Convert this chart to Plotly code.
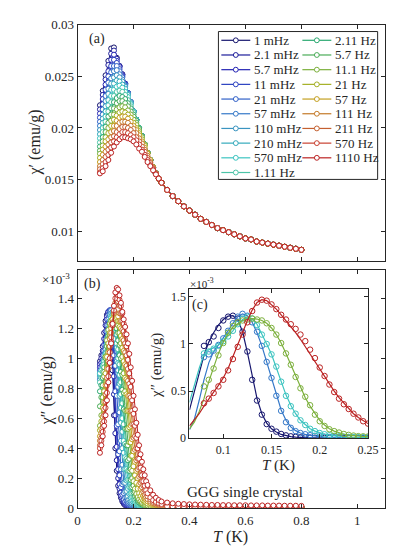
import plotly.graph_objects as go

W, H = 398, 553
FONT = "Liberation Serif"
INK = "#262626"

freqs = ["1 mHz", "2.1 mHz", "5.7 mHz", "11 mHz", "21 mHz", "57 mHz", "110 mHz",
         "210 mHz", "570 mHz", "1.11 Hz", "2.11 Hz", "5.7 Hz", "11.1 Hz", "21 Hz",
         "57 Hz", "111 Hz", "211 Hz", "570 Hz", "1110 Hz"]
colors = ["#16166e", "#1c1c9a", "#2424b4", "#2a40c0", "#3060c8", "#3478c8", "#3a94c0",
          "#34aabc", "#3cc4c0", "#4cc4a8", "#2aa870", "#4aac58", "#7cb03c", "#a4b024",
          "#c4a020", "#c47a28", "#c46030", "#c84030", "#bb2222"]

# ---- panel (a): chi' (emu/g) ----
T_a = [0.08, 0.09, 0.10, 0.11, 0.12, 0.13, 0.14, 0.15, 0.16, 0.17, 0.18, 0.19,
       0.20, 0.21, 0.22, 0.23, 0.24, 0.25, 0.26, 0.27, 0.28, 0.29, 0.30]
T_a_tail = [0.32, 0.34, 0.36, 0.38, 0.40, 0.42, 0.44, 0.46, 0.48, 0.50, 0.52, 0.54,
            0.56, 0.58, 0.60, 0.62, 0.64, 0.66, 0.68, 0.70, 0.72, 0.74, 0.76, 0.78, 0.80]
chi1_tail = [0.0140, 0.0134, 0.0129, 0.0124, 0.0120, 0.0116, 0.0112, 0.0109, 0.0106, 0.0103,
             0.0101, 0.0099, 0.0097, 0.0095, 0.0093, 0.0092, 0.0090, 0.0089, 0.0088, 0.0087,
             0.0086, 0.0085, 0.0084, 0.0083, 0.0082]

chi1_01 = [0.0222, 0.0236, 0.0251, 0.0265, 0.0277, 0.0278, 0.0268, 0.0260, 0.0252, 0.0243, 0.0234, 0.0225, 0.0216, 0.0208, 0.0200, 0.0192, 0.0184, 0.0176, 0.0169, 0.0162, 0.0156, 0.0151, 0.0147]
chi1_02 = [0.0218, 0.0232, 0.0247, 0.0261, 0.0272, 0.0275, 0.0267, 0.0260, 0.0252, 0.0243, 0.0234, 0.0225, 0.0216, 0.0208, 0.0200, 0.0192, 0.0184, 0.0176, 0.0169, 0.0162, 0.0156, 0.0151, 0.0147]
chi1_03 = [0.0214, 0.0228, 0.0242, 0.0255, 0.0266, 0.0271, 0.0265, 0.0259, 0.0251, 0.0243, 0.0234, 0.0225, 0.0216, 0.0208, 0.0200, 0.0192, 0.0184, 0.0176, 0.0169, 0.0162, 0.0156, 0.0151, 0.0147]
chi1_04 = [0.0210, 0.0223, 0.0237, 0.0250, 0.0260, 0.0266, 0.0263, 0.0257, 0.0250, 0.0242, 0.0234, 0.0225, 0.0216, 0.0208, 0.0200, 0.0192, 0.0184, 0.0176, 0.0169, 0.0162, 0.0156, 0.0151, 0.0147]
chi1_05 = [0.0206, 0.0218, 0.0231, 0.0244, 0.0254, 0.0260, 0.0260, 0.0255, 0.0249, 0.0242, 0.0234, 0.0225, 0.0216, 0.0208, 0.0200, 0.0192, 0.0184, 0.0176, 0.0169, 0.0162, 0.0156, 0.0151, 0.0147]
chi1_06 = [0.0202, 0.0213, 0.0226, 0.0238, 0.0248, 0.0255, 0.0256, 0.0252, 0.0247, 0.0241, 0.0233, 0.0225, 0.0216, 0.0208, 0.0200, 0.0192, 0.0184, 0.0176, 0.0169, 0.0162, 0.0156, 0.0151, 0.0147]
chi1_07 = [0.0198, 0.0209, 0.0221, 0.0233, 0.0243, 0.0249, 0.0251, 0.0249, 0.0245, 0.0240, 0.0233, 0.0225, 0.0216, 0.0208, 0.0200, 0.0192, 0.0184, 0.0176, 0.0169, 0.0162, 0.0156, 0.0151, 0.0147]
chi1_08 = [0.0194, 0.0205, 0.0216, 0.0227, 0.0237, 0.0243, 0.0246, 0.0245, 0.0242, 0.0238, 0.0232, 0.0224, 0.0216, 0.0208, 0.0200, 0.0192, 0.0184, 0.0176, 0.0169, 0.0162, 0.0156, 0.0151, 0.0147]
chi1_09 = [0.0190, 0.0200, 0.0211, 0.0222, 0.0231, 0.0237, 0.0240, 0.0241, 0.0239, 0.0235, 0.0230, 0.0223, 0.0216, 0.0208, 0.0200, 0.0192, 0.0184, 0.0176, 0.0169, 0.0162, 0.0156, 0.0151, 0.0147]
chi1_10 = [0.0186, 0.0196, 0.0206, 0.0216, 0.0225, 0.0231, 0.0235, 0.0236, 0.0235, 0.0232, 0.0227, 0.0221, 0.0215, 0.0208, 0.0200, 0.0192, 0.0184, 0.0176, 0.0169, 0.0162, 0.0156, 0.0151, 0.0147]
chi1_11 = [0.0182, 0.0191, 0.0201, 0.0211, 0.0219, 0.0225, 0.0229, 0.0231, 0.0230, 0.0228, 0.0224, 0.0219, 0.0213, 0.0207, 0.0200, 0.0192, 0.0184, 0.0176, 0.0169, 0.0162, 0.0156, 0.0151, 0.0147]
chi1_12 = [0.0178, 0.0187, 0.0196, 0.0205, 0.0213, 0.0219, 0.0224, 0.0226, 0.0226, 0.0224, 0.0221, 0.0216, 0.0211, 0.0205, 0.0199, 0.0192, 0.0184, 0.0176, 0.0169, 0.0162, 0.0156, 0.0151, 0.0147]
chi1_13 = [0.0175, 0.0183, 0.0191, 0.0200, 0.0207, 0.0213, 0.0218, 0.0220, 0.0221, 0.0220, 0.0217, 0.0213, 0.0208, 0.0203, 0.0197, 0.0191, 0.0184, 0.0176, 0.0169, 0.0162, 0.0156, 0.0151, 0.0147]
chi1_14 = [0.0171, 0.0179, 0.0187, 0.0195, 0.0202, 0.0208, 0.0212, 0.0215, 0.0216, 0.0215, 0.0213, 0.0210, 0.0205, 0.0200, 0.0195, 0.0189, 0.0183, 0.0176, 0.0169, 0.0162, 0.0156, 0.0151, 0.0147]
chi1_15 = [0.0167, 0.0174, 0.0182, 0.0189, 0.0196, 0.0202, 0.0207, 0.0210, 0.0211, 0.0211, 0.0209, 0.0206, 0.0202, 0.0198, 0.0193, 0.0187, 0.0181, 0.0175, 0.0169, 0.0162, 0.0156, 0.0151, 0.0147]
chi1_16 = [0.0163, 0.0169, 0.0177, 0.0184, 0.0191, 0.0197, 0.0202, 0.0205, 0.0206, 0.0206, 0.0205, 0.0202, 0.0199, 0.0195, 0.0190, 0.0185, 0.0179, 0.0173, 0.0167, 0.0162, 0.0156, 0.0151, 0.0147]
chi1_17 = [0.0160, 0.0165, 0.0172, 0.0179, 0.0186, 0.0192, 0.0196, 0.0199, 0.0201, 0.0201, 0.0200, 0.0198, 0.0195, 0.0191, 0.0187, 0.0182, 0.0177, 0.0171, 0.0166, 0.0161, 0.0156, 0.0151, 0.0147]
chi1_18 = [0.0157, 0.0161, 0.0167, 0.0174, 0.0181, 0.0187, 0.0191, 0.0194, 0.0196, 0.0196, 0.0195, 0.0193, 0.0191, 0.0188, 0.0184, 0.0179, 0.0174, 0.0169, 0.0164, 0.0160, 0.0155, 0.0151, 0.0147]
chi1_19 = [0.0156, 0.0158, 0.0163, 0.0169, 0.0176, 0.0182, 0.0186, 0.0189, 0.0191, 0.0191, 0.0190, 0.0189, 0.0187, 0.0184, 0.0180, 0.0177, 0.0172, 0.0167, 0.0163, 0.0159, 0.0155, 0.0151, 0.0147]

# ---- panel (b): chi'' (x1e-3 emu/g) ----
T_b = [0.080, 0.085, 0.090, 0.095, 0.100, 0.105, 0.110, 0.115, 0.120, 0.125,
       0.130, 0.135, 0.140, 0.145, 0.150, 0.155, 0.160, 0.165, 0.170, 0.175,
       0.180, 0.185, 0.190, 0.195, 0.200, 0.205, 0.210, 0.215, 0.220, 0.225,
       0.230, 0.235, 0.240, 0.245, 0.250, 0.26, 0.27, 0.28, 0.29, 0.30]
T_b_tail = T_a_tail
chi2_tail = [0.012, 0.011, 0.011, 0.010, 0.010, 0.010, 0.009, 0.009, 0.009, 0.009, 0.008, 0.008,
             0.008, 0.008, 0.008, 0.007, 0.007, 0.007, 0.007, 0.007, 0.006, 0.006, 0.006, 0.006, 0.006]
chi2_tail_red = [0.038, 0.033, 0.030, 0.028, 0.026, 0.025, 0.024, 0.023, 0.022, 0.022, 0.021, 0.021,
                 0.020, 0.020, 0.020, 0.019, 0.019, 0.019, 0.018, 0.018, 0.018, 0.017, 0.017, 0.017, 0.016]

chi2_01 = [0.98, 1.02, 1.08, 1.17, 1.25, 1.29, 1.30, 1.27, 1.13, 0.92, 0.62, 0.40, 0.25, 0.15, 0.10, 0.07, 0.045, 0.03, 0.02, 0.015, 0.01, 0.008, 0.006, 0.005, 0.004, 0.004, 0.003, 0.003, 0.003, 0.002, 0.002, 0.002, 0.002, 0.002, 0.002, 0.001, 0.001, 0.001, 0.001, 0.001]
chi2_02 = [0.96, 1.00, 1.05, 1.13, 1.22, 1.28, 1.31, 1.30, 1.20, 1.02, 0.76, 0.50, 0.32, 0.20, 0.13, 0.085, 0.055, 0.038, 0.027, 0.019, 0.014, 0.011, 0.009, 0.007, 0.006, 0.005, 0.004, 0.004, 0.003, 0.003, 0.003, 0.002, 0.002, 0.002, 0.002, 0.002, 0.001, 0.001, 0.001, 0.001]
chi2_03 = [0.94, 0.97, 1.02, 1.09, 1.18, 1.26, 1.31, 1.32, 1.26, 1.11, 0.88, 0.62, 0.41, 0.26, 0.16, 0.105, 0.07, 0.048, 0.034, 0.025, 0.019, 0.015, 0.012, 0.009, 0.008, 0.006, 0.005, 0.005, 0.004, 0.004, 0.003, 0.003, 0.003, 0.002, 0.002, 0.002, 0.002, 0.001, 0.001, 0.001]
chi2_04 = [0.92, 0.94, 0.99, 1.05, 1.13, 1.22, 1.29, 1.32, 1.30, 1.20, 1.02, 0.78, 0.55, 0.36, 0.22, 0.14, 0.09, 0.06, 0.043, 0.032, 0.024, 0.018, 0.014, 0.011, 0.009, 0.007, 0.006, 0.005, 0.005, 0.004, 0.004, 0.003, 0.003, 0.003, 0.002, 0.002, 0.002, 0.002, 0.001, 0.001]
chi2_05 = [0.90, 0.92, 0.96, 1.02, 1.09, 1.18, 1.26, 1.31, 1.32, 1.26, 1.13, 0.95, 0.75, 0.56, 0.38, 0.26, 0.16, 0.10, 0.07, 0.05, 0.036, 0.028, 0.021, 0.017, 0.013, 0.011, 0.009, 0.007, 0.006, 0.005, 0.005, 0.004, 0.004, 0.003, 0.003, 0.003, 0.002, 0.002, 0.002, 0.002]
chi2_06 = [0.86, 0.89, 0.93, 0.99, 1.06, 1.14, 1.22, 1.29, 1.32, 1.30, 1.23, 1.13, 0.98, 0.81, 0.64, 0.45, 0.29, 0.17, 0.11, 0.075, 0.055, 0.042, 0.032, 0.025, 0.02, 0.016, 0.013, 0.011, 0.009, 0.008, 0.007, 0.006, 0.005, 0.005, 0.004, 0.004, 0.003, 0.003, 0.002, 0.002]
chi2_07 = [0.88, 0.90, 0.93, 0.98, 1.04, 1.11, 1.18, 1.25, 1.30, 1.31, 1.27, 1.19, 1.07, 0.92, 0.75, 0.57, 0.40, 0.26, 0.17, 0.115, 0.08, 0.058, 0.044, 0.034, 0.027, 0.022, 0.018, 0.015, 0.012, 0.01, 0.009, 0.008, 0.007, 0.006, 0.005, 0.004, 0.004, 0.003, 0.003, 0.002]
chi2_08 = [0.89, 0.91, 0.94, 0.98, 1.03, 1.09, 1.16, 1.23, 1.28, 1.30, 1.28, 1.21, 1.10, 0.97, 0.83, 0.67, 0.51, 0.37, 0.26, 0.185, 0.13, 0.095, 0.07, 0.052, 0.04, 0.031, 0.025, 0.02, 0.016, 0.013, 0.011, 0.009, 0.008, 0.007, 0.006, 0.005, 0.004, 0.004, 0.003, 0.003]
chi2_09 = [0.90, 0.92, 0.95, 0.98, 1.03, 1.08, 1.14, 1.21, 1.27, 1.29, 1.27, 1.20, 1.10, 1.00, 0.89, 0.76, 0.60, 0.45, 0.34, 0.26, 0.19, 0.14, 0.10, 0.075, 0.055, 0.042, 0.032, 0.025, 0.02, 0.017, 0.014, 0.012, 0.01, 0.009, 0.008, 0.007, 0.006, 0.005, 0.005, 0.004]
chi2_10 = [0.84, 0.87, 0.91, 0.96, 1.02, 1.08, 1.14, 1.20, 1.25, 1.28, 1.28, 1.24, 1.16, 1.06, 0.96, 0.84, 0.70, 0.56, 0.43, 0.33, 0.25, 0.19, 0.14, 0.10, 0.075, 0.058, 0.045, 0.035, 0.028, 0.023, 0.019, 0.016, 0.013, 0.011, 0.01, 0.008, 0.007, 0.006, 0.005, 0.005]
chi2_11 = [0.78, 0.82, 0.87, 0.94, 1.01, 1.08, 1.14, 1.19, 1.24, 1.26, 1.27, 1.25, 1.20, 1.12, 1.02, 0.91, 0.79, 0.66, 0.53, 0.42, 0.32, 0.25, 0.19, 0.14, 0.105, 0.08, 0.062, 0.048, 0.038, 0.03, 0.025, 0.02, 0.017, 0.014, 0.012, 0.01, 0.008, 0.007, 0.006, 0.005]
chi2_12 = [0.68, 0.74, 0.82, 0.91, 1.00, 1.08, 1.15, 1.20, 1.24, 1.26, 1.27, 1.26, 1.23, 1.17, 1.09, 1.00, 0.89, 0.77, 0.65, 0.53, 0.42, 0.33, 0.26, 0.20, 0.15, 0.11, 0.085, 0.066, 0.052, 0.041, 0.033, 0.027, 0.022, 0.019, 0.016, 0.012, 0.01, 0.008, 0.007, 0.006]
chi2_13 = [0.55, 0.62, 0.74, 0.88, 1.01, 1.12, 1.19, 1.23, 1.25, 1.26, 1.27, 1.26, 1.25, 1.22, 1.17, 1.10, 1.01, 0.90, 0.78, 0.65, 0.53, 0.44, 0.35, 0.25, 0.18, 0.13, 0.095, 0.075, 0.06, 0.045, 0.035, 0.028, 0.022, 0.02, 0.018, 0.015, 0.013, 0.012, 0.011, 0.01]
chi2_14 = [0.52, 0.58, 0.67, 0.78, 0.90, 1.01, 1.10, 1.17, 1.22, 1.26, 1.28, 1.28, 1.27, 1.25, 1.21, 1.15, 1.07, 0.98, 0.87, 0.76, 0.65, 0.54, 0.44, 0.35, 0.28, 0.22, 0.17, 0.13, 0.10, 0.08, 0.065, 0.053, 0.044, 0.037, 0.031, 0.024, 0.019, 0.016, 0.014, 0.012]
chi2_15 = [0.48, 0.53, 0.61, 0.71, 0.82, 0.93, 1.04, 1.13, 1.20, 1.26, 1.30, 1.31, 1.30, 1.28, 1.25, 1.20, 1.13, 1.05, 0.96, 0.86, 0.75, 0.65, 0.55, 0.46, 0.38, 0.31, 0.25, 0.20, 0.16, 0.13, 0.10, 0.083, 0.068, 0.056, 0.047, 0.034, 0.026, 0.021, 0.018, 0.015]
chi2_16 = [0.45, 0.50, 0.57, 0.66, 0.76, 0.87, 0.98, 1.08, 1.17, 1.24, 1.30, 1.34, 1.35, 1.33, 1.30, 1.25, 1.19, 1.12, 1.04, 0.95, 0.85, 0.75, 0.65, 0.56, 0.47, 0.39, 0.32, 0.26, 0.21, 0.17, 0.14, 0.11, 0.09, 0.074, 0.061, 0.044, 0.033, 0.026, 0.021, 0.018]
chi2_17 = [0.42, 0.47, 0.54, 0.62, 0.71, 0.82, 0.93, 1.04, 1.14, 1.23, 1.31, 1.37, 1.39, 1.38, 1.35, 1.30, 1.25, 1.18, 1.10, 1.02, 0.93, 0.83, 0.74, 0.65, 0.56, 0.48, 0.40, 0.33, 0.27, 0.22, 0.18, 0.15, 0.12, 0.10, 0.08, 0.058, 0.043, 0.034, 0.027, 0.022]
chi2_18 = [0.40, 0.45, 0.51, 0.58, 0.67, 0.77, 0.88, 1.00, 1.11, 1.22, 1.32, 1.40, 1.43, 1.42, 1.39, 1.35, 1.30, 1.23, 1.16, 1.08, 0.99, 0.90, 0.81, 0.72, 0.63, 0.55, 0.47, 0.40, 0.33, 0.27, 0.22, 0.18, 0.15, 0.12, 0.10, 0.072, 0.054, 0.042, 0.034, 0.028]
chi2_19 = [0.37, 0.42, 0.48, 0.55, 0.62, 0.72, 0.84, 0.97, 1.10, 1.23, 1.35, 1.44, 1.47, 1.46, 1.42, 1.37, 1.31, 1.26, 1.21, 1.16, 1.10, 1.03, 0.94, 0.85, 0.75, 0.66, 0.57, 0.49, 0.42, 0.36, 0.31, 0.26, 0.22, 0.18, 0.155, 0.12, 0.09, 0.07, 0.055, 0.045]

# ---- inset (c): fitted curves for 1 mHz, 57 mHz, 570 mHz, 11.1 Hz, 1110 Hz ----
inset_ids = [0, 5, 8, 12, 18]
T_fit = [0.065, 0.070, 0.075, 0.080, 0.085, 0.090, 0.095, 0.100, 0.105, 0.110,
         0.115, 0.120, 0.125, 0.130, 0.135, 0.140, 0.145, 0.150, 0.155, 0.160,
         0.165, 0.170, 0.175, 0.180, 0.185, 0.190, 0.195, 0.200, 0.205, 0.210,
         0.215, 0.220, 0.225, 0.230, 0.235, 0.240, 0.245, 0.250]
fit_1mHz = [0.30, 0.50, 0.70, 0.88, 1.02, 1.12, 1.20, 1.26, 1.295, 1.30, 1.26, 1.13, 0.91, 0.65, 0.42, 0.26, 0.16, 0.10, 0.065, 0.04, 0.026, 0.017, 0.011, 0.007, 0.005, 0.004, 0.003, 0.002, 0.002, 0.001, 0.001, 0.001, 0.001, 0.0, 0.0, 0.0, 0.0, 0.0]
fit_57mHz = [0.09, 0.20, 0.40, 0.62, 0.80, 0.92, 0.99, 1.06, 1.14, 1.22, 1.29, 1.32, 1.30, 1.23, 1.12, 0.98, 0.81, 0.63, 0.45, 0.30, 0.19, 0.12, 0.08, 0.055, 0.04, 0.03, 0.022, 0.017, 0.013, 0.01, 0.008, 0.006, 0.005, 0.004, 0.003, 0.003, 0.002, 0.002]
fit_570mHz = [0.38, 0.56, 0.74, 0.89, 0.94, 0.96, 0.99, 1.03, 1.08, 1.14, 1.21, 1.26, 1.28, 1.27, 1.21, 1.11, 1.00, 0.89, 0.75, 0.60, 0.46, 0.35, 0.26, 0.19, 0.14, 0.10, 0.075, 0.056, 0.042, 0.032, 0.025, 0.02, 0.016, 0.013, 0.011, 0.009, 0.008, 0.007]
fit_11Hz = [0.10, 0.17, 0.28, 0.42, 0.60, 0.76, 0.90, 1.02, 1.11, 1.18, 1.22, 1.25, 1.265, 1.27, 1.265, 1.25, 1.22, 1.17, 1.10, 1.01, 0.90, 0.78, 0.66, 0.54, 0.43, 0.34, 0.26, 0.19, 0.14, 0.10, 0.075, 0.055, 0.042, 0.033, 0.026, 0.021, 0.018, 0.016]
fit_1110Hz = [0.13, 0.19, 0.26, 0.34, 0.42, 0.49, 0.56, 0.64, 0.74, 0.86, 0.99, 1.12, 1.25, 1.36, 1.44, 1.47, 1.46, 1.42, 1.37, 1.31, 1.25, 1.19, 1.12, 1.05, 0.97, 0.89, 0.81, 0.73, 0.65, 0.57, 0.50, 0.43, 0.37, 0.31, 0.26, 0.22, 0.185, 0.155]

chi1_all = [chi1_01, chi1_02, chi1_03, chi1_04, chi1_05, chi1_06, chi1_07, chi1_08, chi1_09, chi1_10,
            chi1_11, chi1_12, chi1_13, chi1_14, chi1_15, chi1_16, chi1_17, chi1_18, chi1_19]
chi2_all = [chi2_01, chi2_02, chi2_03, chi2_04, chi2_05, chi2_06, chi2_07, chi2_08, chi2_09, chi2_10,
            chi2_11, chi2_12, chi2_13, chi2_14, chi2_15, chi2_16, chi2_17, chi2_18, chi2_19]
fits = [fit_1mHz, fit_57mHz, fit_570mHz, fit_11Hz, fit_1110Hz]


def px(x, y):
    # pixel position -> paper coordinates
    return x / W, 1 - y / H


def mk(c):
    return dict(symbol="circle", size=5, color="white", line=dict(color=c, width=1))


fig = go.Figure()

for i in range(19):
    c = colors[i]
    fig.add_trace(go.Scatter(x=T_a + T_a_tail, y=chi1_all[i] + chi1_tail, mode="lines+markers",
                             line=dict(color=c, width=1), marker=mk(c), name=freqs[i],
                             showlegend=False, xaxis="x", yaxis="y"))

for i in range(19):
    c = colors[i]
    tail = chi2_tail_red if i == 18 else chi2_tail
    fig.add_trace(go.Scatter(x=T_b + T_b_tail, y=chi2_all[i] + tail, mode="lines+markers",
                             line=dict(color=c, width=1), marker=mk(c), name=freqs[i],
                             showlegend=False, xaxis="x2", yaxis="y2"))

for k, i in enumerate(inset_ids):
    c = colors[i]
    fig.add_trace(go.Scatter(x=T_b, y=chi2_all[i], mode="markers",
                             marker=dict(symbol="circle-open", size=5.5, color=c, line=dict(width=1)),
                             name=freqs[i], showlegend=False, xaxis="x3", yaxis="y3"))
    fig.add_trace(go.Scatter(x=T_fit, y=fits[k], mode="lines", line=dict(color=c, width=1.2),
                             name=freqs[i] + " fit", showlegend=False, xaxis="x3", yaxis="y3"))

axis_common = dict(showline=True, linecolor=INK, linewidth=1, mirror="ticks", ticks="inside",
                   ticklen=4, tickcolor=INK, showgrid=False, zeroline=False,
                   tickfont=dict(family=FONT, size=13, color=INK))

xa0, _ = px(69, 0)
xa1, _ = px(388, 0)
_, ya1 = px(0, 10)
_, ya0 = px(0, 253)
_, yb1 = px(0, 262)
_, yb0 = px(0, 507)
xc0, _ = px(185, 0)
xc1, _ = px(370, 0)
_, yc1 = px(0, 282)
_, yc0 = px(0, 435)

xt = [0, 0.2, 0.4, 0.6, 0.8, 1.0]
fig.update_layout(
    width=W, height=H, margin=dict(l=0, r=0, t=0, b=0),
    paper_bgcolor="white", plot_bgcolor="white", showlegend=False,
    font=dict(family=FONT, size=14, color=INK),
    xaxis=dict(axis_common, domain=[xa0, xa1], anchor="y", range=[0, 1.1], tickvals=xt,
               showticklabels=False),
    yaxis=dict(axis_common, domain=[ya0, ya1], anchor="x", range=[0.0071, 0.03],
               tickvals=[0.01, 0.015, 0.02, 0.025, 0.03],
               ticktext=["0.01", "0.015", "0.02", "0.025", "0.03"]),
    xaxis2=dict(axis_common, domain=[xa0, xa1], anchor="y2", range=[0, 1.1], tickvals=xt,
                ticktext=["0", "0.2", "0.4", "0.6", "0.8", "1"]),
    yaxis2=dict(axis_common, domain=[yb0, yb1], anchor="x2", range=[0, 1.59],
                tickvals=[0, 0.2, 0.4, 0.6, 0.8, 1.0, 1.2, 1.4],
                ticktext=["0", "0.2", "0.4", "0.6", "0.8", "1", "1.2", "1.4"]),
    xaxis3=dict(axis_common, domain=[xc0, xc1], anchor="y3", range=[0.065, 0.25],
                tickvals=[0.1, 0.15, 0.2, 0.25], ticktext=["0.1", "0.15", "0.2", "0.25"],
                tickfont=dict(family=FONT, size=12, color=INK)),
    yaxis3=dict(axis_common, domain=[yc0, yc1], anchor="x3", range=[0, 1.58],
                tickvals=[0, 0.5, 1.0, 1.5], ticktext=["0", "0.5", "1", "1.5"],
                tickfont=dict(family=FONT, size=12, color=INK)),
)

ann = []
shapes = []


def txt(x, y, s, size=14, xanchor="center", **kw):
    a, b = px(x, y)
    ann.append(dict(x=a, y=b, xref="paper", yref="paper", text=s, showarrow=False,
                    xanchor=xanchor, yanchor="middle", font=dict(family=FONT, size=size, color=INK), **kw))


# axis titles
txt(25, 131, "χ′ (emu/g)", 16, textangle=-90)
txt(37, 386, "χ″ (emu/g)", 16, textangle=-90)
txt(151, 360, "χ″ (emu/g)", 15, textangle=-90)
txt(228, 537, "<i>T</i> (K)", 16)
txt(277, 463, "<i>T</i> (K)", 15)

txt(89, 25, "(a)", 14)
txt(84, 276, "(b)", 14)
txt(196, 298, "(c)", 14)
txt(63, 271, "×10<sup>-3</sup>", 13, xanchor="right")
txt(183, 275, "×10<sup>-3</sup>", 11, xanchor="left")
ann.append(dict(x=0.6, y=0.11, xref="x2", yref="y2", text="GGG single crystal", showarrow=False,
                font=dict(family=FONT, size=15, color=INK)))

# legend drawn as a two-column box like the original
lx0, ly1 = px(215, 17)
lx1, ly0 = px(380, 169)
shapes.append(dict(type="rect", xref="paper", yref="paper", x0=lx0, x1=lx1, y0=ly0, y1=ly1,
                   line=dict(color=INK, width=1), fillcolor="white", layer="below"))
for i in range(19):
    col, row = (0, i) if i < 10 else (1, i - 10)
    yy = 26 + 15.1 * row
    xl = 218 if col == 0 else 302
    a0, b = px(xl, yy)
    a1, _ = px(xl + 30, yy)
    shapes.append(dict(type="line", xref="paper", yref="paper", x0=a0, x1=a1, y0=b, y1=b,
                       line=dict(color=colors[i], width=1.2)))
    c0, d0 = px(xl + 15 - 2.5, yy + 2.5)
    c1, d1 = px(xl + 15 + 2.5, yy - 2.5)
    shapes.append(dict(type="circle", xref="paper", yref="paper", x0=c0, x1=c1, y0=d0, y1=d1,
                       line=dict(color=colors[i], width=1), fillcolor="white"))
    txt(xl + 32, yy, freqs[i], 13, xanchor="left")

fig.update_layout(annotations=ann, shapes=shapes)

fig.write_html("out.html")
